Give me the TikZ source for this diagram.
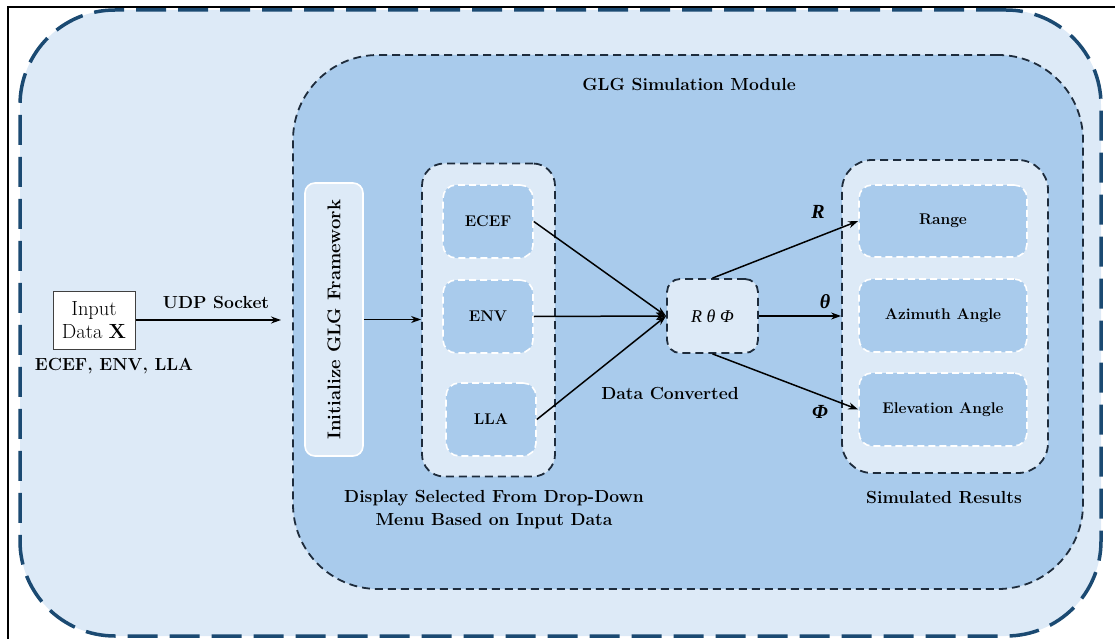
\documentclass[tikz,border=0pt]{standalone}
\usepackage{fontspec}
\newfontfamily\grk{Liberation Serif}
\usetikzlibrary{arrows.meta}
\definecolor{lightfill}{HTML}{DDEAF7}
\definecolor{midfill}{HTML}{A9CBEC}
\definecolor{navy}{HTML}{1B4A72}
\definecolor{darkdash}{HTML}{1E2C3C}
\tikzset{
  outerbox/.style={draw=navy, fill=lightfill, line width=3.5pt, dash pattern=on 30pt off 12pt, rounded corners=95pt},
  modulebox/.style={draw=darkdash, fill=midfill, line width=1.8pt, dash pattern=on 8pt off 5pt, rounded corners=85pt},
  groupbox/.style={draw=darkdash, fill=lightfill, line width=1.8pt, dash pattern=on 8pt off 5pt},
  itembox/.style={draw=white, fill=midfill, line width=1.6pt, dash pattern=on 7pt off 4pt, rounded corners=13pt, font=\fontsize{15.5}{18}\selectfont\bfseries},
  initbox/.style={draw=white, fill=lightfill, line width=1.6pt, rounded corners=10pt},
  inbox/.style={draw=black!75, fill=white, line width=1pt, align=center, font=\fontsize{20.5}{23}\selectfont},
  lbl/.style={font=\fontsize{17.5}{23}\selectfont\bfseries, align=center, inner sep=0pt},
  mlbl/.style={font=\fontsize{20}{22}\selectfont\grk\bfseries\itshape, inner sep=0pt},
  arr/.style={draw=black, line width=1.5pt, -{Stealth[length=10pt,width=7pt]}},
}
\begin{document}
\begin{tikzpicture}[x=1pt,y=-1pt]
\useasboundingbox (0,0) rectangle (1115,639);
\draw[line width=1.5pt] (8,639) -- (8,7) -- (1115,7);
\node[outerbox, minimum width=1081pt, minimum height=626pt] (outer) at (560.5,323) {};
\node[modulebox, minimum width=790pt, minimum height=534pt] (glg) at (688,322) {};
\node[lbl] (glgtitle) at (689,84) {GLG Simulation Module};
% input
\node[inbox, minimum width=82pt, minimum height=58pt, inner sep=0pt] (input) at (94,320) {Input\\Data \textbf{X}};
\node[lbl] (inlbl) at (114,366) {ECEF, ENV, LLA};
\node[lbl] (udp) at (216,302) {UDP Socket};
\coordinate (udpend) at (281,320);
% init
\node[initbox, minimum width=58pt, minimum height=273pt] (init) at (334,319.5) {};
\node[lbl, rotate=90, font=\fontsize{18.5}{22}\selectfont\bfseries] (inittxt) at (334,319.5) {Initialize GLG Framework};
% display group
\node[groupbox, rounded corners=22pt, minimum width=133pt, minimum height=313pt] (disp) at (488.5,320) {};
\node[itembox, minimum width=90pt, minimum height=73pt] (ecef) at (488,221.5) {ECEF};
\node[itembox, minimum width=90pt, minimum height=73pt] (env) at (488,316.5) {ENV};
\node[itembox, minimum width=90pt, minimum height=73pt] (lla) at (491,419.5) {LLA};
\node[lbl] (displbl) at (494,510) {Display Selected From Drop-Down\\Menu Based on Input Data};
% converter
\node[groupbox, rounded corners=13pt, minimum width=91pt, minimum height=74pt, font=\fontsize{18}{20}\selectfont\grk\itshape] (rtp) at (712.5,316) {R θ Φ};
\node[lbl] (conv) at (670,393) {Data Converted};
% results
\node[groupbox, rounded corners=30pt, minimum width=206pt, minimum height=313pt] (res) at (945,316.5) {};
\node[itembox, minimum width=168pt, minimum height=72pt] (range) at (943,221) {Range};
\node[itembox, minimum width=168pt, minimum height=73pt] (azi) at (943,315.5) {Azimuth Angle};
\node[itembox, minimum width=168pt, minimum height=73pt] (elev) at (943,409.5) {Elevation Angle};
\node[lbl] (reslbl) at (944,497) {Simulated Results};
% labels
\node[mlbl] (rl) at (818,212) {R};
\node[mlbl] (tl) at (825,302) {θ};
\node[mlbl] (pl) at (820,412) {Φ};
% arrows
\draw[arr] (input.east) -- (udpend);
\draw[arr] (init.east) -- (init.east -| disp.west);
\draw[arr] (ecef.east) -- (rtp.west);
\draw[arr] (env.east) -- (rtp.west);
\draw[arr] (lla.east) -- (rtp.west);
\draw[arr] (rtp.north) -- (range.west);
\draw[arr] (rtp.east) -- (rtp.east -| res.west);
\draw[arr] (rtp.south) -- (elev.west);
\end{tikzpicture}
\end{document}
